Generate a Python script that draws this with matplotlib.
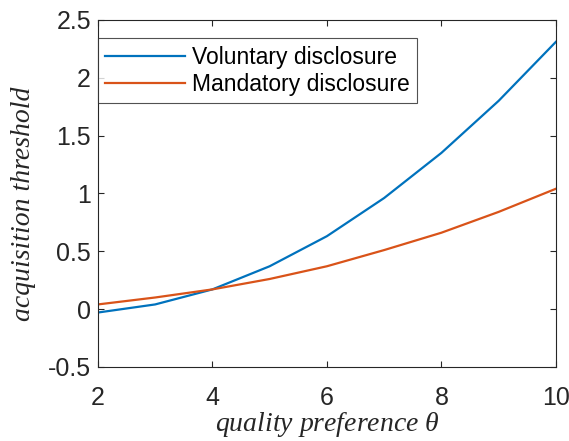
import matplotlib
matplotlib.use("Agg")
import matplotlib.pyplot as plt

theta = [2, 3, 4, 5, 6, 7, 8, 9, 10]
voluntary = [-0.03, 0.04, 0.17, 0.37, 0.63, 0.96, 1.35, 1.80, 2.31]
mandatory = [0.04, 0.10, 0.17, 0.26, 0.37, 0.51, 0.66, 0.84, 1.04]
xticks = [2, 4, 6, 8, 10]
yticks = [-0.5, 0, 0.5, 1, 1.5, 2, 2.5]
yticklabels = ["-0.5", "0", "0.5", "1", "1.5", "2", "2.5"]

plt.rcParams['font.family'] = ['Liberation Sans', 'DejaVu Sans']
plt.rcParams['mathtext.fontset'] = 'custom'
plt.rcParams['mathtext.it'] = 'Liberation Serif:italic'
plt.rcParams['mathtext.rm'] = 'Liberation Serif'

fig = plt.figure(figsize=(5.69, 4.41), dpi=100)
ax = fig.add_axes([0.172, 0.168, 0.805, 0.787])

ax.plot(theta, voluntary, color='#0072BD', lw=1.6, label='Voluntary disclosure')
ax.plot(theta, mandatory, color='#D95319', lw=1.6, label='Mandatory disclosure')

ax.set_xlim(2, 10)
ax.set_ylim(-0.5, 2.5)
ax.set_xticks(xticks)
ax.set_xticklabels([str(t) for t in xticks])
ax.set_yticks(yticks)
ax.set_yticklabels(yticklabels)

c = '#262626'
for s in ax.spines.values():
    s.set_color(c)
    s.set_linewidth(0.8)
ax.tick_params(direction='in', length=4, width=0.8, colors=c, labelsize=18,
               top=True, right=True, pad=5)
ax.tick_params(axis='x', pad=14)

ax.set_xlabel(r'quality preference $\theta$', fontfamily='Liberation Serif',
              style='italic', fontsize=20, color=c, labelpad=0)
ax.set_ylabel('acquisition threshold', fontfamily='Liberation Serif',
              style='italic', fontsize=20, color=c)
ax.yaxis.set_label_coords(-0.135, 0.47)

leg = ax.legend(loc='upper left', bbox_to_anchor=(0.0, 0.947), fontsize=16.5,
                frameon=True, fancybox=False, edgecolor=c, borderaxespad=0,
                handlelength=3.5, handletextpad=0.3, borderpad=0.32,
                labelspacing=0.2)
leg.get_frame().set_linewidth(0.8)

fig.savefig('out.png', dpi=100)
